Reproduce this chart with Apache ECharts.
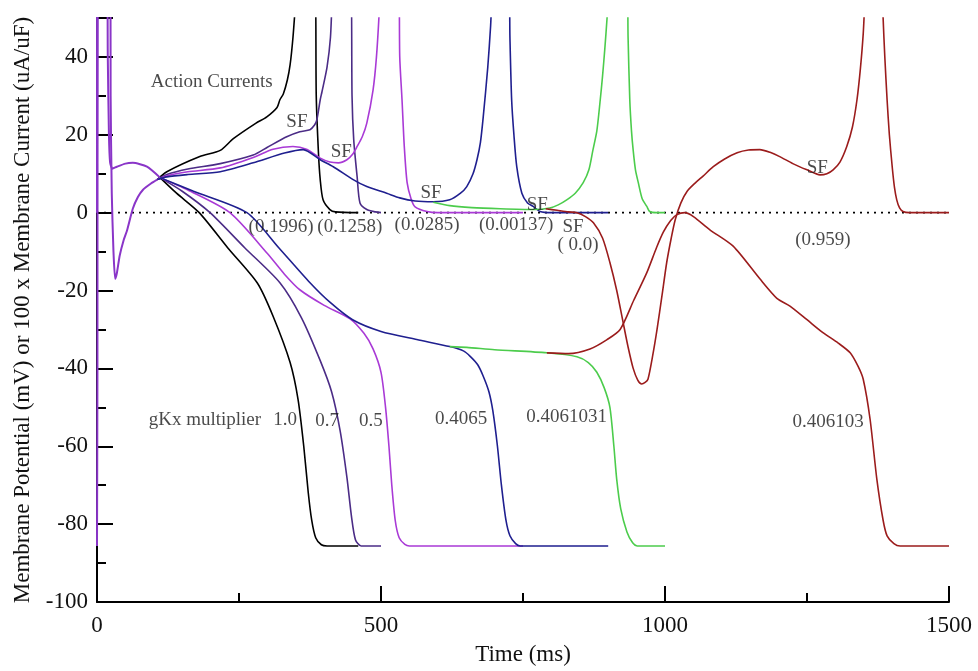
<!DOCTYPE html>
<html><head><meta charset="utf-8">
<script src="https://cdn.jsdelivr.net/npm/echarts@6/dist/echarts.min.js"></script>
<style>html,body{margin:0;padding:0;background:#fff}#c{width:978px;height:671px}</style>
</head><body><div id="c"></div>
<script>
// ---- data: [time (ms), value] ----
const apEarly = [[0,-85.6],[0.8,-40],[1.5,70],[17,70],[19,40],[21,20],[23,13],[27,11.3],[35,11.8],[50,12.6],[63,12.8],[88,11.8],[111,9]];
const curEarly = [[0,0],[1.5,150],[22,150],[24,30],[26,5],[29,-10],[32,-17],[35,-15.5],[40,-11],[47,-7],[53,-4.5],[63,1],[72,4],[81,5.9],[95,7.5],[106,8.5]];

const ap10 = [[111,9],[140,5],[180,0],[230,-9],[282,-18],[310,-26.6],[340,-38.5],[354,-48],[364,-60],[372,-72],[378,-79],[385,-83.5],[395,-85.3],[405,-85.6],[460,-85.6]];
const ap07 = [[111,9],[150,5.5],[199,0],[260,-9],[322,-18],[360,-27],[393,-38],[413,-46],[428,-56],[440,-68],[448,-78],[455,-84],[465,-85.6],[500,-85.6]];
const ap05 = [[111,9],[160,5.8],[234,0],[300,-10.5],[330,-15.8],[357,-19.8],[400,-23.8],[445,-27.2],[470,-31],[486,-35],[500,-41],[508,-50],[514,-60],[519,-70],[525,-79],[532,-83.5],[542,-85.2],[550,-85.6],[750,-85.6]];
const ap4065 = [[111,9],[170,5.5],[264,0],[320,-9],[375,-18],[410,-23],[450,-27.5],[500,-30.5],[563,-32.6],[621,-34.4],[645,-35.5],[657,-36.9],[670,-39],[680,-42],[690,-46],[697,-51],[705,-60],[712,-70],[720,-79],[727,-83],[737,-85],[745,-85.6],[900,-85.6]];
const ap4061031 = [[621,-34.4],[651,-34.6],[700,-35.2],[792,-36],[845,-37],[865,-38.5],[880,-41],[893,-45],[903,-50],[910,-60],[915,-68.5],[922,-76],[933,-82],[943,-84.8],[951,-85.6],[1000,-85.6]];
const ap406103 = [[792,-36],[830,-36.2],[868,-35],[898,-32.6],[921,-30],[945,-22.5],[968,-15.4],[985,-9],[997,-5],[1010,-2],[1021,-0.5],[1035,0],[1050,-1],[1079,-4.4],[1120,-8.6],[1167,-17],[1197,-22],[1220,-24],[1250,-27.5],[1278,-30.8],[1305,-33.5],[1326,-36],[1340,-39.5],[1349,-42.8],[1361,-53],[1373,-68.5],[1384,-79],[1391,-83],[1403,-85],[1414,-85.6],[1500,-85.6]];

const cur10 = [[106,8.5],[123,10.5],[181,14.4],[217,16],[240,19],[280,23],[299,24.6],[317,27],[322,29],[328,30.5],[335,34],[340,38],[345,45],[350,55],[352,60],[384,60],[386,30],[390,15],[393,8.5],[398,3.3],[410,0.8],[420,0.2],[460,0]];
const cur07 = [[106,8.5],[123,9.8],[160,11.2],[217,12.6],[275,14.8],[300,16.8],[334,19.5],[357,20.8],[375,21.3],[383,22.5],[387,23.8],[393,29],[396,31],[405,37.4],[411,45],[414,55],[416,60],[447,60],[449,30],[452,18.7],[458,9.2],[463,2.5],[475,0.8],[490,0.2],[500,0]];
const cur05 = [[106,8.5],[123,9.5],[160,10.5],[217,11.5],[275,14.2],[310,16.3],[345,17],[370,16.2],[393,14],[410,13],[425,12.8],[440,13.6],[450,15],[458,17],[467,19.5],[475,23],[486,31.5],[492,40],[497,52],[499,60],[531,60],[533,40],[537,29],[541,17],[546,7.7],[553,3.5],[560,1.5],[581,0.3],[600,0],[750,0]];
const cur4065 = [[106,8.5],[123,9.2],[160,9.8],[217,10.5],[275,12.8],[330,15.3],[363,16.2],[393,13.6],[416,11.8],[451,8.5],[475,6.7],[510,5],[533,3.8],[560,3],[592,2.8],[621,3.3],[640,5],[651,6.7],[662,10],[669,13.6],[675,18],[680,24.6],[688,37.4],[693,48],[695,55],[697,60],[725,60],[727,45],[730,29],[734,20],[739,11.8],[748,5],[758,2.5],[768,1.6],[780,0.3],[800,0],[900,0]];
const cur4061031 = [[592,2.7],[621,1.8],[660,1.3],[710,1],[768,0.8],[797,1.2],[812,2],[827,3.3],[842,5],[856,7.7],[866,11],[873,16],[880,21],[886,29],[890,35],[894,42],[898,50],[900,55],[902,60],[933,60],[935,45],[938,29],[941,21],[944,16],[948,11],[953,7.7],[960,3.5],[968,1.6],[973,0.3],[985,0],[1000,0]];
const cur406103 = [[790,1.0],[810,0.6],[830,0.2],[845,0],[860,-1],[874,-2.6],[890,-6.5],[903,-12.8],[915,-20],[926,-28],[935,-34.5],[944,-40],[952,-43],[959,-44],[965,-43.6],[970,-42.8],[978,-37],[986,-30],[995,-21],[1003,-12.8],[1011,-6.5],[1018,-1.8],[1028,2.5],[1039,5.5],[1053,7.6],[1067,9.4],[1085,11.8],[1105,13.8],[1127,15.4],[1147,16.1],[1167,16.2],[1185,15.5],[1202,14.4],[1225,12.6],[1250,11],[1273,9.7],[1285,10],[1296,11],[1308,13],[1320,17],[1330,22],[1338,29],[1344,37],[1349,46],[1352,55],[1354,60],[1382,60],[1384,50],[1387,40],[1391,29],[1395,20],[1400,11.8],[1404,6.5],[1408,3.3],[1413,1.2],[1419,0.3],[1430,0],[1500,0]];

const zeroLine = [[0,0],[1500,0]];

// annotations
const noteTexts = ['Action Currents','SF','SF','SF','SF','SF','( 0.0)','SF','(0.1996)','(0.1258)','(0.0285)','(0.00137)','(0.959)','gKx multiplier','1.0','0.7','0.5','0.4065','0.4061031','0.406103'];
const noteT =     [202, 352, 430, 588, 775, 838, 847, 1268, 324, 445, 581, 738, 1278, 190, 331, 405, 482, 641, 827, 1287];
const noteV =     [33.6, 23.3, 15.6, 5.1, 2, -3.8, -8.2, 11.5, -3.6, -3.6, -3.3, -3.3, -6.9, -53.3, -53.3, -53.6, -53.6, -53.1, -52.6, -53.8];

// ---- chart ----
const FONT = 'Liberation Serif';
const C = {k:'#000000', p07:'#4b2c86', p05:'#a93ad6', b:'#1f1f8f', g:'#4ccc4c', r:'#9b1c1c', early:'#8a35c8'};
function ln(data, color, w, extra) {
  return Object.assign({type:'line', data, symbol:'none', showSymbol:false, smooth:0.25,
    clip:true, lineStyle:{color, width:w||1.6}, silent:true, animation:false, z:3}, extra||{});
}
const series = [
  ln(zeroLine, '#000', 1.6, {smooth:false, lineStyle:{color:'#000', width:1.6, type:[2,5]}, z:2}),
  ln(ap10, C.k), ln(cur10, C.k),
  ln(ap07, C.p07), ln(cur07, C.p07),
  ln(ap05, C.p05), ln(cur05, C.p05),
  ln(ap4065, C.b), ln(cur4065, C.b),
  ln(ap4061031, C.g), ln(cur4061031, C.g),
  ln(ap406103, C.r), ln(cur406103, C.r),
  ln(apEarly, C.early, 2, {smooth:0.2}), ln(curEarly, C.early, 2, {smooth:0.2}),
  {type:'scatter', symbolSize:1, itemStyle:{color:'rgba(0,0,0,0)'}, silent:true, z:5,
   data: noteTexts.map((s,i)=>({name:s, value:[noteT[i], noteV[i]]})),
   label:{show:true, position:'inside', formatter:p=>p.name, fontFamily:FONT, fontSize:19, color:'#1a1a1a'}}
];
const chart = echarts.init(document.getElementById('c'), null, {renderer:'canvas'});
chart.setOption({
  animation:false,
  backgroundColor:'#fff',
  grid:{left:97, right:29, top:18, bottom:68, containLabel:false},
  xAxis:{type:'value', min:0, max:1500, interval:500,
    name:'Time (ms)', nameLocation:'middle', nameGap:41,
    nameTextStyle:{fontFamily:FONT, fontSize:23, color:'#111'},
    axisLine:{onZero:false, lineStyle:{color:'#000', width:2}},
    axisTick:{inside:true, length:16, lineStyle:{color:'#000', width:2}},
    minorTick:{show:true, splitNumber:2, length:9, lineStyle:{color:'#000', width:2}},
    splitLine:{show:false},
    axisLabel:{fontFamily:FONT, fontSize:23, color:'#111', margin:12, formatter:v=>String(v)}},
  yAxis:{type:'value', min:-100, max:50, interval:20,
    name:'Membrane Potential (mV) or 100 x Membrane Current (uA/uF)', nameLocation:'middle', nameGap:62,
    nameTextStyle:{fontFamily:FONT, fontSize:23, color:'#111'},
    axisLine:{onZero:false, lineStyle:{color:'#000', width:2}},
    axisTick:{inside:true, length:16, lineStyle:{color:'#000', width:2}},
    minorTick:{show:true, splitNumber:2, length:9, lineStyle:{color:'#000', width:2}},
    splitLine:{show:false},
    axisLabel:{fontFamily:FONT, fontSize:23, color:'#111', margin:9, showMaxLabel:false, formatter:v=>String(v)}},
  series
});
</script></body></html>
